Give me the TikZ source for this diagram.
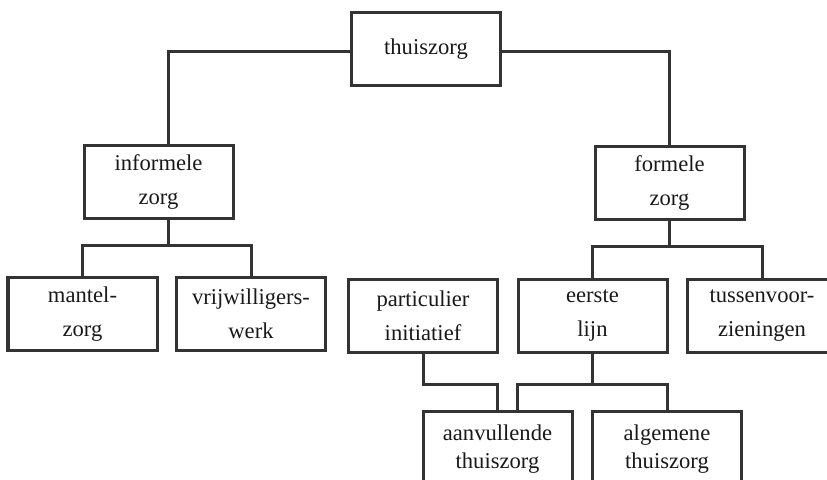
\documentclass[tikz,border=0pt]{standalone}
\usepackage{fontspec}
\setmainfont{Liberation Serif}
\usepackage{tikz}
\usetikzlibrary{calc}

\begin{document}
\begin{tikzpicture}[
  x=0.5pt, y=-0.5pt,
  box/.style={rectangle, draw=black!80, line width=1.5pt, minimum width=74.5pt, minimum height=36.5pt, inner sep=0pt, align=center, text=black!90, font=\fontsize{11.3}{17}\selectfont},
  lowbox/.style={box, minimum height=38pt, font=\fontsize{11.3}{14}\selectfont},
  link/.style={draw=black!80, line width=1.5pt}
]
\useasboundingbox (0,0) rectangle (827,479);
\clip (0,0) rectangle (827,479);
% top level
\node[box] (thuis) at (426,49) {thuiszorg};
\node[box] (inf) at (158.5,181.5) {informele\\zorg};
\node[box] (form) at (669.5,182.5) {formele\\zorg};
% second level
\node[box] (mantel) at (82.5,314) {mantel-\\zorg};
\node[box] (vrij) at (251,314) {vrijwilligers-\\werk};
\node[box] (part) at (423,315.5) {particulier\\initiatief};
\node[box] (eerste) at (592.5,315.5) {eerste\\lijn};
\node[box] (tussen) at (762,315.5) {tussenvoor-\\zieningen};
% bottom, cut off by the page
\node[lowbox] (aanv) at (497.5,449) {aanvullende\\thuiszorg};
\node[lowbox] (alg) at (667,449) {algemene\\thuiszorg};
\draw[link] ($(thuis.west)+(0,2)$) -| ($(inf.north)+(9.5,0)$);
\draw[link] ($(thuis.east)+(0,2)$) -| (form.north);
\draw[link] ($(inf.south)+(9.5,0)$) -- ++(0,26) -| (mantel.north);
\draw[link] ($(inf.south)+(9.5,0)$) -- ++(0,26) -| (vrij.north);
\draw[link] (form.south) -- ++(0,26) -| (eerste.north);
\draw[link] (form.south) -- ++(0,26) -| (tussen.north);
\draw[link] (part.south) -- ++(0,31) -| (aanv.north);
\draw[link] (eerste.south) -- ++(0,31) -| ($(aanv.north)+(20,0)$);
\draw[link] (eerste.south) -- ++(0,31) -| (alg.north);
\end{tikzpicture}
\end{document}
